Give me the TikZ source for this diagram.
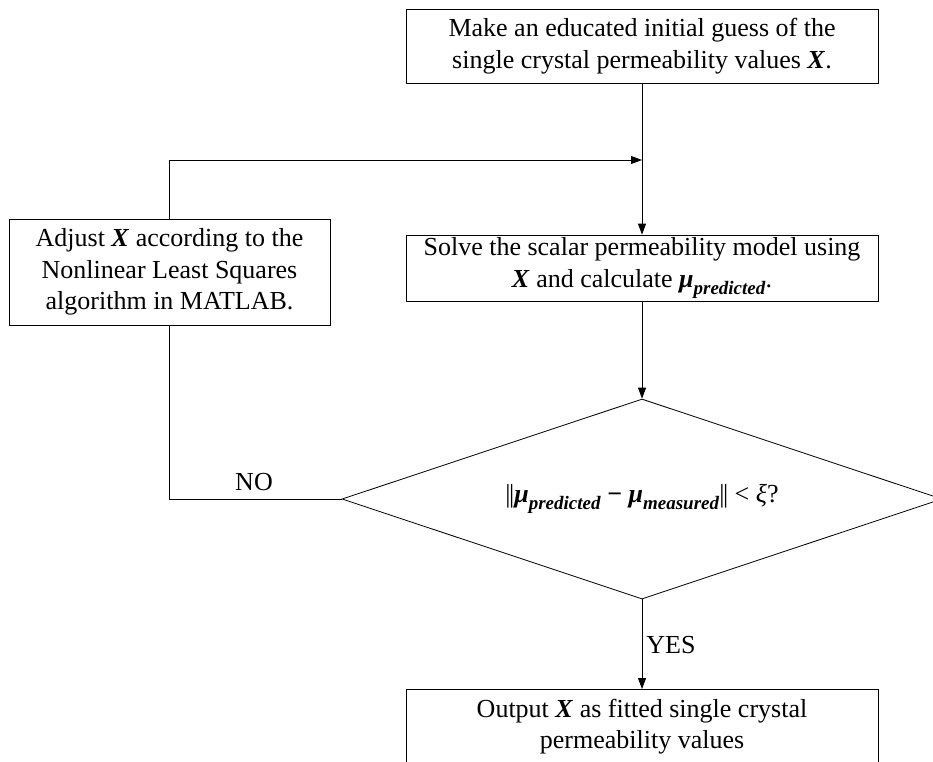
\documentclass[tikz,border=0pt]{standalone}
\usepackage{fontspec}
\setmainfont{Liberation Serif}
\usetikzlibrary{shapes.geometric,arrows.meta}
\newcommand{\bX}{\textbf{\textit{X}}}
\newcommand{\bmu}{\textbf{\textit{μ}}}
\newcommand{\mysub}[1]{\raisebox{-0.28em}{\fontsize{19}{19}\selectfont\textbf{\textit{#1}}}}
\newcommand{\nbar}{|\kern-1.5pt|}
\begin{document}
\begin{tikzpicture}[x=1pt,y=-1pt,
  font=\fontsize{26}{31.5}\selectfont,
  line/.style={line width=0.8pt},
  arr/.style={line width=0.8pt,-{Triangle[length=11pt,width=8pt]}},
  box/.style={draw,line width=0.8pt,align=center,inner sep=0pt,minimum width=472pt,minimum height=74pt},
  lbl/.style={inner sep=0pt}]
\useasboundingbox (0,0) rectangle (933,761);
\node[box] (top) at (642,46) {Make an educated initial guess of the\\single crystal permeability values \bX.};
\node[box,minimum height=66pt] (solve) at (642,268) {Solve the scalar permeability model using\\\bX{} and calculate \bmu\mysub{predicted}.};
\node[box,minimum width=321pt,minimum height=106pt] (adjust) at (169.5,272) {Adjust \bX{} according to the\\Nonlinear Least Squares\\algorithm in MATLAB.};
\node[draw,line width=0.8pt,diamond,aspect=3,minimum width=600pt,minimum height=200pt,inner sep=0pt] (dia) at (642,499)
  {\nbar\bmu\mysub{predicted} \textbf{−} \bmu\mysub{measured}\nbar{} < \textit{ξ}?};
\node[box,anchor=north] (out) at (642,689) {Output \bX{} as fitted single crystal\\permeability values};
\coordinate (j) at (642,160);
\draw[arr] (top.south) -- (solve.north);
\draw[arr] (adjust.north) |- (j);
\draw[arr] (solve.south) -- (dia.north);
\draw[line] (dia.west) -- (dia.west -| adjust.south) -- (adjust.south);
\node[lbl] (no) at (254,482) {NO};
\draw[arr] (dia.south) -- (out.north);
\node[lbl] (yes) at (671,645) {YES};
\end{tikzpicture}
\end{document}
